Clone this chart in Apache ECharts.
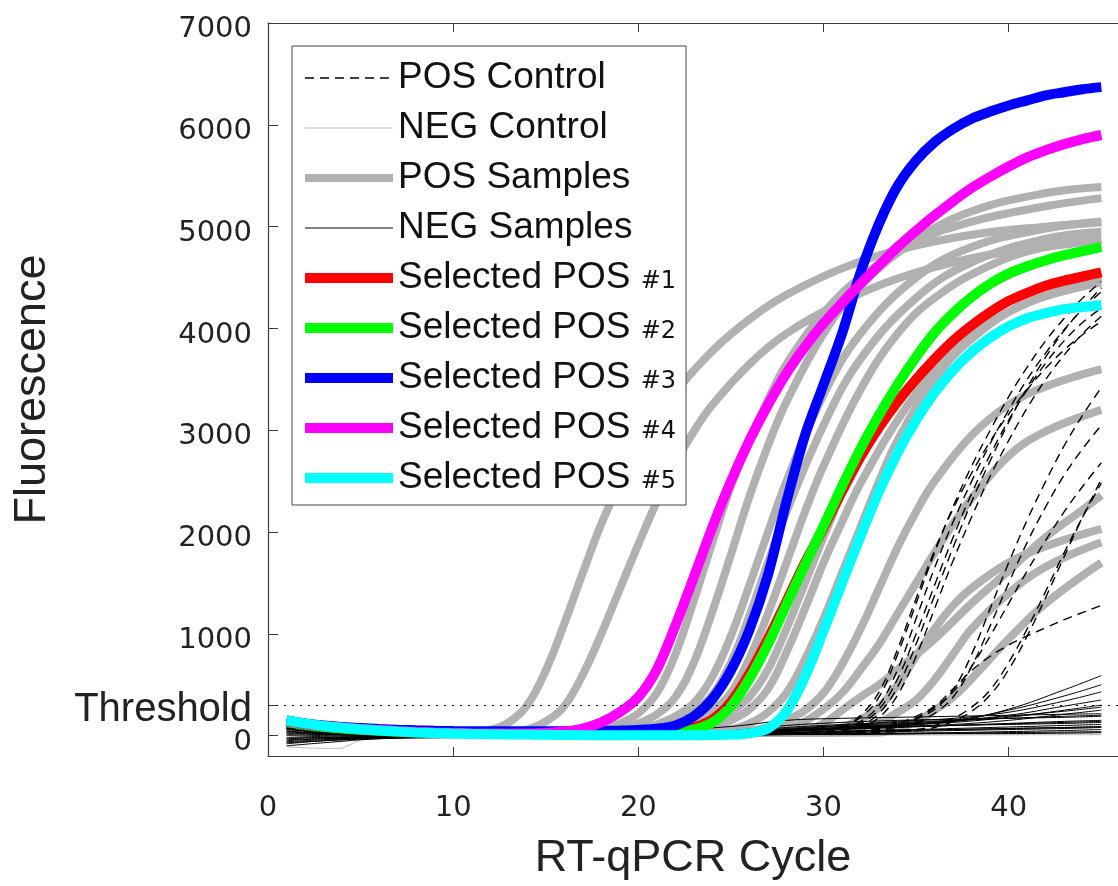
<!DOCTYPE html>
<html>
<head>
<meta charset="utf-8">
<script src="https://cdn.jsdelivr.net/npm/echarts@6.0.0/dist/echarts.min.js"></script>
<style>
  html, body { margin: 0; padding: 0; background: #fff; }
  #chart { width: 1118px; height: 886px; }
</style>
</head>
<body>
<div id="chart"></div>
<script>
// ---- data ----
const cycles = [1,2,3,4,5,6,7,8,9,10,11,12,13,14,15,16,17,18,19,20,21,22,23,24,25,26,27,28,29,30,31,32,33,34,35,36,37,38,39,40,41,42,43,44,45];

const selectedPos1 = [140,115,95,80,65,55,45,38,32,27,23,20,18,16,15,15,15,16,18,22,30,45,80,160,330,610,950,1320,1700,2040,2400,2740,3030,3280,3500,3700,3880,4030,4160,4270,4350,4420,4470,4510,4550];
const selectedPos2 = [130,105,85,70,58,48,40,34,29,25,22,19,17,16,15,15,15,16,18,20,25,35,60,130,290,560,900,1290,1680,2060,2450,2820,3150,3450,3720,3960,4150,4310,4440,4540,4610,4670,4720,4760,4800];
const selectedPos3 = [150,120,100,85,75,65,58,52,48,45,43,42,42,42,42,43,44,46,50,56,68,100,190,360,640,1040,1580,2300,2950,3450,3950,4550,5030,5400,5650,5830,5960,6060,6130,6190,6240,6290,6320,6350,6370];
const selectedPos4 = [140,115,95,80,65,55,45,38,32,27,23,20,20,22,27,40,70,130,230,380,650,1080,1560,2050,2500,2900,3250,3560,3820,4050,4250,4440,4620,4800,4960,5110,5250,5380,5490,5590,5680,5750,5810,5860,5900];
const selectedPos5 = [150,120,95,78,62,50,40,32,26,21,17,14,12,10,8,6,5,4,3,3,3,3,4,6,10,22,70,240,580,1030,1500,1960,2400,2780,3100,3370,3590,3770,3910,4020,4100,4150,4190,4210,4230];

// POS samples, [cycle, fluorescence]
const posSampleCurves = [
  [[1,120],[4,60],[8,25],[11,30],[12,55],[13,130],[14,300],[15,640],[16,1100],[17,1600],[18,2080],[19,2480],[20,2830],[21,3130],[22,3380],[24,3780],[26,4090],[28,4330],[31,4590],[34,4770],[38,4920],[42,5000],[45,5040]],
  [[1,110],[4,55],[8,25],[13,30],[14,60],[15,140],[16,290],[17,600],[18,1000],[19,1440],[20,1880],[21,2300],[22,2680],[23,2990],[24,3250],[26,3650],[28,3950],[31,4260],[34,4490],[38,4690],[42,4800],[45,4860]],
  [[1,120],[5,50],[10,25],[16,30],[17,40],[18,60],[19,120],[20,220],[21,420],[22,800],[23,1330],[24,1900],[25,2450],[26,2900],[27,3300],[28,3650],[30,4150],[32,4500],[35,4850],[38,5050],[42,5200],[45,5280]],
  [[1,110],[5,50],[10,20],[18,35],[19,65],[20,120],[21,210],[22,380],[23,720],[24,1220],[25,1780],[26,2350],[27,2850],[28,3280],[30,3950],[32,4420],[35,4870],[38,5150],[42,5330],[45,5390]],
  [[1,120],[5,50],[10,20],[19,30],[20,60],[21,110],[22,190],[23,320],[24,580],[25,980],[26,1480],[27,2000],[28,2500],[30,3350],[32,3950],[35,4500],[38,4800],[42,4980],[45,5050]],
  [[1,100],[5,40],[10,20],[20,40],[21,75],[22,140],[23,240],[24,400],[25,720],[26,1180],[27,1700],[28,2200],[30,3050],[32,3700],[35,4300],[38,4650],[42,4880],[45,4950]],
  [[1,100],[5,45],[10,20],[20,30],[22,70],[23,140],[24,240],[25,420],[26,760],[27,1200],[28,1700],[29,2200],[30,2650],[32,3400],[34,3950],[36,4300],[39,4620],[42,4800],[45,4880]],
  [[1,110],[5,50],[10,20],[22,30],[23,70],[24,140],[25,230],[26,380],[27,650],[28,1050],[29,1500],[30,1950],[32,2800],[34,3450],[36,3950],[38,4300],[41,4600],[45,4800]],
  [[1,110],[5,45],[10,20],[22,30],[24,80],[25,150],[26,260],[27,460],[28,820],[29,1250],[30,1700],[31,2100],[32,2480],[34,3100],[36,3580],[38,3930],[41,4250],[45,4500]],
  [[1,120],[5,50],[10,20],[24,30],[25,60],[26,120],[27,230],[28,420],[29,750],[30,1150],[31,1600],[32,2050],[33,2500],[34,2900],[36,3500],[38,3900],[41,4250],[45,4450]],
  [[1,100],[5,45],[10,20],[25,30],[27,80],[28,150],[29,250],[30,420],[31,700],[32,1050],[33,1450],[34,1850],[35,2200],[36,2500],[38,2950],[40,3250],[42,3430],[45,3600]],
  [[1,110],[5,50],[10,20],[27,30],[28,70],[29,140],[30,260],[31,420],[32,650],[33,900],[34,1200],[35,1500],[36,1800],[37,2080],[38,2330],[40,2750],[42,2990],[45,3200]],
  [[1,100],[5,40],[10,20],[28,30],[29,60],[30,120],[31,250],[32,380],[33,500],[34,650],[36,950],[38,1300],[40,1620],[42,1950],[44,2220],[45,2360]],
  [[1,110],[5,50],[10,20],[30,30],[31,80],[32,160],[33,280],[34,500],[35,780],[36,1050],[37,1280],[38,1450],[40,1700],[42,1860],[45,2030]],
  [[1,100],[5,40],[10,20],[31,30],[32,70],[33,130],[34,230],[35,350],[36,550],[37,800],[38,1050],[40,1400],[42,1660],[45,1900]],
  [[1,110],[5,50],[10,20],[33,30],[34,70],[35,140],[36,250],[37,380],[38,560],[40,950],[42,1300],[45,1700]]
];

// POS controls (dashed)
const posControlCurves = [
  [[1,90],[5,40],[10,15],[20,10],[28,20],[30,50],[31,90],[32,180],[33,380],[34,800],[35,1300],[36,1800],[37,2250],[38,2650],[39,3000],[40,3330],[41,3620],[42,3880],[43,4100],[44,4300],[45,4460]],
  [[1,100],[5,40],[10,15],[20,10],[28,20],[30,40],[31,70],[32,140],[33,300],[34,650],[35,1150],[36,1650],[37,2100],[38,2500],[39,2870],[40,3200],[41,3500],[42,3760],[43,3990],[44,4190],[45,4360]],
  [[1,80],[5,30],[10,10],[20,10],[29,30],[31,60],[32,120],[33,260],[34,560],[35,1000],[36,1480],[37,1950],[38,2380],[39,2760],[40,3100],[41,3400],[42,3660],[43,3880],[44,4060],[45,4200]],
  [[1,110],[5,50],[10,20],[20,15],[29,30],[31,80],[32,200],[33,430],[34,850],[35,1350],[36,1820],[37,2230],[38,2580],[39,2890],[40,3160],[41,3400],[42,3610],[43,3790],[44,3940],[45,4070]],
  [[1,70],[5,30],[10,10],[20,10],[29,20],[31,50],[32,100],[33,220],[34,480],[35,900],[36,1380],[37,1850],[38,2300],[39,2700],[40,3080],[41,3420],[42,3720],[43,3980],[44,4200],[45,4400]],
  [[1,90],[5,40],[10,10],[20,10],[30,30],[32,90],[33,180],[34,400],[35,780],[36,1250],[37,1720],[38,2150],[39,2550],[40,2900],[41,3220],[42,3500],[43,3740],[44,3950],[45,4120]],
  [[1,100],[5,40],[10,15],[20,10],[30,20],[33,50],[34,90],[35,160],[36,260],[37,450],[38,800],[39,1250],[40,1700],[41,2120],[42,2500],[43,2850],[44,3150],[45,3420]],
  [[1,80],[5,30],[10,10],[20,10],[30,20],[33,40],[34,70],[35,130],[36,220],[37,380],[38,680],[39,1080],[40,1500],[41,1900],[42,2250],[43,2560],[44,2820],[45,3050]],
  [[1,120],[5,50],[10,20],[20,15],[30,30],[33,60],[34,100],[35,170],[36,280],[37,430],[38,680],[39,980],[40,1300],[41,1620],[42,1920],[43,2200],[44,2450],[45,2680]],
  [[1,90],[5,40],[10,15],[20,10],[30,30],[33,70],[34,120],[35,190],[36,290],[37,460],[38,640],[39,780],[40,890],[41,980],[42,1060],[43,1140],[44,1210],[45,1280]],
  [[1,100],[5,40],[10,15],[20,10],[30,20],[35,60],[36,100],[37,170],[38,280],[39,450],[40,720],[41,1050],[42,1420],[43,1800],[44,2150],[45,2480]],
  [[1,80],[5,30],[10,10],[20,10],[30,20],[35,50],[36,80],[37,140],[38,240],[39,400],[40,650],[41,980],[42,1360],[43,1760],[44,2150],[45,2520]]
];

// NEG samples, values at these cycles
const negCycles = [1,3,6,10,15,20,25,28,31,34,37,40,43,45];
const negSampleValues = [
  [80,40,15,0,0,10,30,60,90,110,140,260,450,590],
  [70,30,10,0,0,5,20,50,80,110,150,250,390,500],
  [40,20,5,-10,-10,0,20,60,100,140,170,230,340,430],
  [-60,-40,-20,-10,0,10,30,70,100,120,150,200,290,350],
  [-80,-50,-20,-10,-5,5,25,55,80,100,130,180,250,300],
  [20,10,0,-5,0,10,30,60,70,90,110,150,210,250],
  [50,20,10,0,0,10,40,80,110,130,150,170,190,200],
  [-30,-20,-10,-10,-5,0,20,40,60,80,100,120,140,150],
  [-100,-70,-30,-10,0,10,30,50,70,90,100,110,120,130],
  [10,0,-10,-10,-5,0,10,30,40,50,60,70,80,90],
  [90,50,20,10,10,20,50,100,130,150,160,170,180,190],
  [-40,-30,-20,-15,-10,0,10,20,30,40,50,60,70,80],
  [30,10,0,-5,-5,0,15,30,45,55,60,70,80,85],
  [-70,-50,-30,-20,-10,-5,5,15,20,25,30,40,50,60],
  [0,-10,-15,-15,-10,-5,0,10,15,20,25,30,35,40],
  [60,30,15,5,0,5,20,45,70,100,140,190,240,280],
  [-20,-20,-15,-10,-5,0,5,10,10,15,20,20,25,30],
  [110,70,40,20,20,40,90,150,170,180,190,200,210,215],
  [-50,-30,-20,-10,-5,0,10,25,40,55,70,85,100,110],
  [40,20,10,5,5,10,25,45,65,85,100,115,130,140]
];

// NEG controls
const negControlCycles = [1,2,3,4,5,7,10,20,30,40,45];
const negControlValues = [
  [-110,-120,-125,-125,-40,-10,0,0,10,20,25],
  [-60,-55,-50,-45,-30,-20,-10,0,5,8,10]
];

const thresholdValue = 300;
const xTicks = [0,10,20,30,40];
const yTicks = [0,300,1000,2000,3000,4000,5000,6000,7000];
const yNumberTicks = [0,1000,2000,3000,4000,5000,6000,7000];
const legendNames = ['POS Control','NEG Control','POS Samples','NEG Samples',
  'Selected POS #1','Selected POS #2','Selected POS #3','Selected POS #4','Selected POS #5'];
const selectedColors = ['#ff0000','#00ff00','#0000ff','#ff00ff','#00ffff'];

// the printed y labels sit a few pixels below their ticks
const yLabelShift = 65;
const thresholdLabelShift = 45;

// ---- build series ----
const seriesList = [];
function addLine(name, data, color, width, type, extra) {
  seriesList.push(Object.assign({
    name: name,
    type: 'line',
    data: data,
    color: color,
    symbol: 'none',
    showSymbol: false,
    smooth: 0.4,
    silent: true,
    animation: false,
    emphasis: { disabled: true },
    lineStyle: { color: color, width: width, type: type || 'solid' }
  }, extra || {}));
}

posSampleCurves.forEach(c => addLine('POS Samples', c, '#b1b1b1', 8));
negControlValues.forEach((vals, i) => {
  addLine('NEG Control', negControlCycles.map((c, j) => [c, vals[j]]), '#bdbdbd', 1, 'solid',
    i === 0 ? {
      smooth: false,
      markLine: {
        silent: true, symbol: 'none', animation: false,
        label: { show: false },
        lineStyle: { color: '#000', width: 1.2, type: [2, 6] },
        data: [{ yAxis: thresholdValue }]
      }
    } : { smooth: false });
});
negSampleValues.forEach(vals => addLine('NEG Samples', negCycles.map((c, j) => [c, vals[j]]), '#000', 1));
posControlCurves.forEach(c => addLine('POS Control', c, '#000', 1.4, [9, 6]));
[selectedPos1, selectedPos2, selectedPos3, selectedPos4, selectedPos5].forEach((vals, i) => {
  addLine('Selected POS #' + (i + 1), cycles.map((c, j) => [c, vals[j]]), selectedColors[i], 10, 'solid', { smooth: 0.3 });
});

const axisColor = '#3a3a3a';
const chart = echarts.init(document.getElementById('chart'), null, { renderer: 'canvas' });
chart.setOption({
  backgroundColor: '#fff',
  animation: false,
  grid: { left: 268, right: -10, top: 23, bottom: 129, containLabel: false },
  legend: {
    data: legendNames,
    orient: 'vertical',
    left: 292,
    top: 46,
    padding: [12, 10, 7, 8],
    itemGap: 10,
    itemWidth: 88,
    itemHeight: 2,
    backgroundColor: '#fff',
    borderColor: '#444',
    borderWidth: 1,
    borderRadius: 0,
    selectedMode: false,
    z: 10,
    lineStyle: { width: 'inherit' },
    itemStyle: { color: 'rgba(0,0,0,0)', borderWidth: 0, opacity: 0 },
    formatter: name => name.replace(/#(\d)/, '{s|#$1}'),
    textStyle: {
      fontSize: 37,
      fontFamily: 'Liberation Sans',
      color: '#111',
      lineHeight: 40,
      rich: {
        s: { fontSize: 24, fontFamily: 'DejaVu Sans', color: '#111', padding: [7, 0, 0, 0] }
      }
    }
  },
  xAxis: [{
    type: 'value', min: 0, max: 45.9, position: 'bottom',
    axisLine: { onZero: false, lineStyle: { color: axisColor, width: 1.2 } },
    axisTick: { inside: true, length: 9, customValues: xTicks, lineStyle: { color: axisColor } },
    axisLabel: { customValues: xTicks, margin: 38, fontSize: 29, fontFamily: 'DejaVu Sans', color: '#222' },
    splitLine: { show: false },
    name: 'RT-qPCR Cycle',
    nameLocation: 'middle',
    nameGap: 80,
    nameTextStyle: { fontSize: 45, fontFamily: 'Liberation Sans', color: '#222' }
  }, {
    type: 'value', min: 0, max: 45.9, position: 'top',
    axisLine: { onZero: false, lineStyle: { color: axisColor, width: 1.2 } },
    axisTick: { inside: true, length: 9, customValues: xTicks.slice(1), lineStyle: { color: axisColor } },
    axisLabel: { show: false },
    splitLine: { show: false }
  }],
  yAxis: [{
    type: 'value', min: -200, max: 7000, position: 'left',
    axisLine: { onZero: false, lineStyle: { color: axisColor, width: 1.2 } },
    axisTick: { inside: true, length: 10, customValues: yTicks, lineStyle: { color: axisColor } },
    axisLabel: {
      customValues: yNumberTicks.map(v => v - yLabelShift),
      formatter: v => String(v + yLabelShift),
      margin: 16,
      fontSize: 29,
      fontFamily: 'DejaVu Sans',
      color: '#222'
    },
    splitLine: { show: false },
    name: 'Fluorescence',
    nameLocation: 'middle',
    nameGap: 213,
    nameTextStyle: { fontSize: 45, fontFamily: 'Liberation Sans', color: '#222' }
  }, {
    type: 'value', min: -200, max: 7000, position: 'left', offset: 0,
    axisLine: { show: false },
    axisTick: { show: false },
    axisLabel: {
      customValues: [thresholdValue - thresholdLabelShift],
      formatter: () => 'Threshold',
      margin: 16,
      fontSize: 40,
      fontFamily: 'Liberation Sans',
      color: '#222'
    },
    splitLine: { show: false }
  }],
  series: seriesList
});
</script>
</body>
</html>
